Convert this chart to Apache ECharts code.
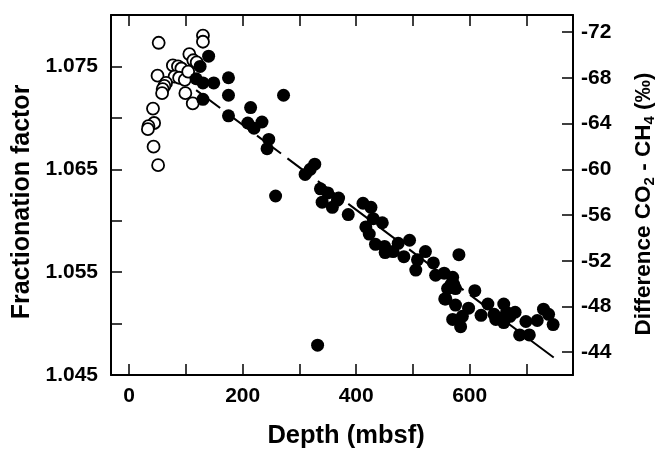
<!DOCTYPE html>
<html>
<head>
<meta charset="utf-8">
<script src="https://cdn.jsdelivr.net/npm/echarts@6/dist/echarts.min.js"></script>
<style>html,body{margin:0;padding:0;background:#fff;}#c{width:665px;height:454px;}</style>
</head>
<body>
<div id="c"></div>
<script>
// Open circles (upper section)
var openDepth = [52,130,130,106,113,119,77,86,92,50,80,88,98,65,62,59,58,99,112,42,44,34,33,43,51,104];
var openAlpha = [1.0773,1.0780,1.0774,1.0762,1.0756,1.0754,1.0751,1.0750,1.0748,1.0741,1.0740,1.0739,1.0737,1.0734,1.0731,1.0728,1.0724,1.0724,1.0714,1.0709,1.0695,1.0692,1.0689,1.0672,1.0654,1.0745];
// Filled circles
var filledDepth = [140,125,118,130,149,175,175,130,175,272,214,209,220,234,246,243,327,319,310,258,337,350,367,340,358,369,386,412,426,430,417,446,423,434,450,451,465,474,494,484,522,508,505,536,581,540,555,570,567,575,556,575,570,584,598,609,632,620,643,660,665,680,654,660,688,705,699,719,730,739,747,332,561,572,558,587,646,671];
var filledAlpha = [1.0760,1.0750,1.0738,1.0734,1.0734,1.0739,1.0722,1.0718,1.0702,1.0722,1.0710,1.0695,1.0690,1.0696,1.0679,1.0670,1.0655,1.0650,1.0645,1.0624,1.0631,1.0627,1.0620,1.0618,1.0613,1.0622,1.0606,1.0617,1.0613,1.0602,1.0594,1.0598,1.0587,1.0577,1.0575,1.0569,1.0570,1.0578,1.0581,1.0565,1.0570,1.0562,1.0552,1.0559,1.0567,1.0547,1.0549,1.0545,1.0538,1.0534,1.0524,1.0518,1.0504,1.0497,1.0515,1.0532,1.0519,1.0508,1.0509,1.0519,1.0511,1.0511,1.0505,1.0501,1.0489,1.0489,1.0502,1.0503,1.0514,1.0509,1.0499,1.0479,1.0534,1.0538,1.0524,1.0507,1.0504,1.0507];
// Dashed trend line
var trendDepth = [118, 748];
var trendAlpha = [1.0727, 1.0467];
// Tick values
var xTicks = [0,100,200,300,400,500,600,700];
var xLabels = [0,200,400,600];
var yTicks = [1.050,1.055,1.060,1.065,1.070,1.075];
var yLabels = [1.045,1.055,1.065,1.075];
var y2Ticks = [-72,-68,-64,-60,-56,-52,-48,-44];

function zip(a,b){ return a.map(function(v,i){ return [v,b[i]]; }); }

var FONT = '"Liberation Sans", Arial, Helvetica, sans-serif';
var chart = echarts.init(document.getElementById('c'), null, {renderer:'canvas'});
var axLine = {show:true, onZero:false, lineStyle:{color:'#000', width:2}};
var tick = function(vals){ return {show:true, inside:true, length:11, customValues:vals, lineStyle:{color:'#000', width:1.5}}; };
var lbl = {fontFamily:FONT, fontWeight:'bold', fontSize:21, color:'#000'};

chart.setOption({
  animation:false,
  backgroundColor:'#fff',
  grid:{left:111, right:73, top:15, bottom:69, containLabel:false},
  xAxis:[{
    type:'value', min:-32, max:782, position:'bottom',
    name:'Depth (mbsf)', nameLocation:'middle', nameGap:48,
    nameTextStyle:{fontFamily:FONT, fontWeight:'bold', fontSize:25.5, color:'#000', padding:[0,0,0,8]},
    axisLine:axLine, axisTick:tick(xTicks),
    axisLabel:Object.assign({customValues:xLabels, margin:11}, lbl),
    splitLine:{show:false}
  },{
    type:'value', min:-32, max:782, position:'top',
    axisLine:axLine, axisTick:tick(xTicks),
    axisLabel:{show:false}, splitLine:{show:false}
  }],
  yAxis:[{
    type:'value', min:1.045, max:1.080, position:'left',
    name:'Fractionation factor', nameLocation:'middle', nameGap:70, nameRotate:90,
    nameTextStyle:{fontFamily:FONT, fontWeight:'bold', fontSize:25, color:'#000', padding:[0,14,0,0]},
    axisLine:axLine, axisTick:tick(yTicks),
    axisLabel:Object.assign({customValues:yLabels, margin:13, formatter:function(v){return v.toFixed(3);}}, lbl),
    splitLine:{show:false}
  },{
    type:'value', min:-73.5, max:-42, inverse:true, position:'right',
    name:'{t|Difference CO}{s|2}{t| - CH}{s|4}{t| (‰)}', nameLocation:'middle', nameGap:58, nameRotate:90,
    nameTextStyle:{color:'#000', padding:[0,18,0,0], rich:{
      t:{fontFamily:FONT, fontWeight:'bold', fontSize:22.5, lineHeight:26, color:'#000'},
      s:{fontFamily:FONT, fontWeight:'bold', fontSize:15, lineHeight:11, verticalAlign:'bottom', color:'#000'}
    }},
    axisLine:axLine, axisTick:tick(y2Ticks),
    axisLabel:Object.assign({customValues:y2Ticks, margin:8}, lbl),
    splitLine:{show:false}
  }],
  series:[{
    type:'line', data:zip(trendDepth, trendAlpha), showSymbol:false, symbol:'none',
    lineStyle:{color:'#000', width:2, type:[30,8]}, z:1, silent:true
  },{
    type:'scatter', data:zip(openDepth, openAlpha), symbol:'circle', symbolSize:12,
    itemStyle:{color:'#fff', borderColor:'#000', borderWidth:1.8, opacity:1}, z:2
  },{
    type:'scatter', data:zip(filledDepth, filledAlpha), symbol:'circle', symbolSize:13,
    itemStyle:{color:'#000', opacity:1}, z:3
  }]
});
</script>
</body>
</html>
